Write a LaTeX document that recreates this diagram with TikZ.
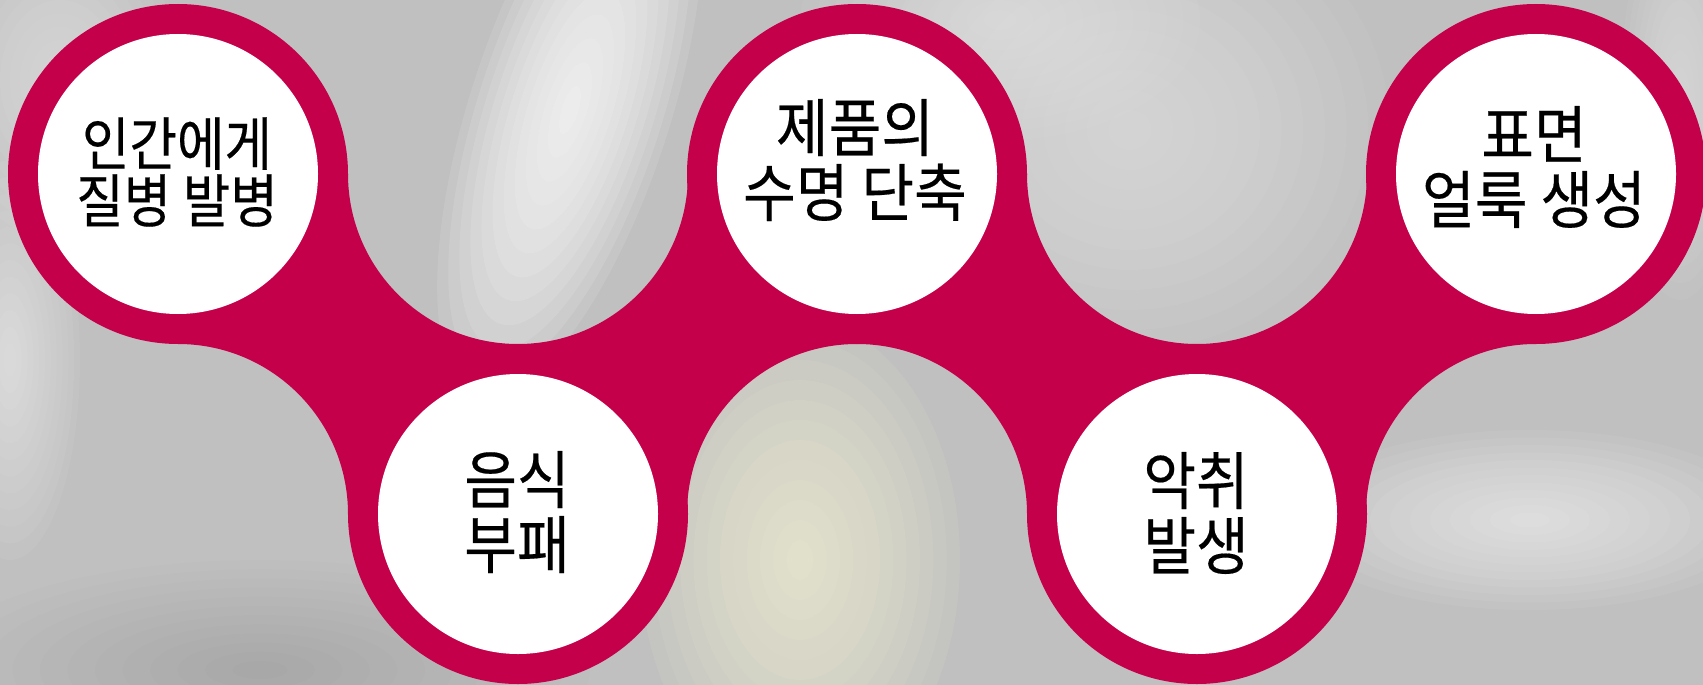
\documentclass[tikz,border=0pt]{standalone}
\usepackage{xcolor}
\usepackage{fontspec}
\usepackage{tikz}
\newfontfamily\krfont[FakeStretch=0.91, FakeBold=0.3]{Noto Sans CJK KR}
\newfontfamily\krfontsmall[FakeStretch=0.89, FakeBold=0.3]{Noto Sans CJK KR}
\definecolor{ringred}{RGB}{197,0,75}
\definecolor{bggray}{RGB}{192,192,192}
\newcommand{\ringcolor}{ringred}
% soft patch of the blurred backdrop: x, y, x radius, y radius, angle, colour/opacity
\newcommand{\glowblob}[6]{%
	\foreach \k in {1,...,12}
		\fill[#6, rotate around={#5:(#1,#2)}] (#1,#2)
			ellipse[x radius={#3pt*\k/12}, y radius={#4pt*\k/12}];}

\begin{document}
\begin{tikzpicture}[x=1pt, y=-1pt,
	label text/.style={align=center, font=\krfont\fontsize{63}{65}\selectfont}]
	\useasboundingbox (0,0) rectangle (1703,685);
	% blurred backdrop
	\fill[bggray] (0,0) rectangle (1703,685);
	\glowblob{570}{110}{100}{300}{-18}{white, fill opacity=0.11}
	\glowblob{1130}{130}{260}{240}{0}{white, fill opacity=0.04}
	\glowblob{1000}{20}{200}{120}{0}{white, fill opacity=0.04}
	\glowblob{10}{360}{70}{200}{0}{white, fill opacity=0.05}
	\glowblob{60}{80}{120}{160}{0}{white, fill opacity=0.04}
	\glowblob{800}{560}{160}{240}{0}{white!85!yellow, fill opacity=0.07}
	\glowblob{1530}{520}{240}{90}{0}{white, fill opacity=0.06}
	\glowblob{1680}{100}{60}{200}{0}{white, fill opacity=0.04}
	\glowblob{260}{670}{330}{110}{0}{black, fill opacity=0.008}

	% band between the rings
	\begin{scope}
		\clip (178,174) rectangle (1536,514);
		\fill[\ringcolor, even odd rule] (150,150) rectangle (1560,540)
			(178,514) circle[radius=170pt]
			(518,174) circle[radius=170pt]
			(857,514) circle[radius=170pt]
			(1197,174) circle[radius=170pt]
			(1536,514) circle[radius=170pt];
	\end{scope}

	% rings
	\foreach \cx/\cy in {178/174, 518/514, 857/174, 1197/514, 1536/174} {
		\fill[\ringcolor] (\cx,\cy) circle[radius=170pt];
		\fill[white] (\cx,\cy) circle[radius=140pt];
	}

	\node[label text, font=\krfontsmall\fontsize{58}{57}\selectfont]
		(disease) at (177,172) {인간에게\\질병 발병};
	\node[label text] (spoil) at (517,512) {음식\\부패};
	\node[label text] (life) at (855,160) {제품의\\수명 단축};
	\node[label text] (odor) at (1196,513) {악취\\발생};
	\node[label text] (stain) at (1534,167) {표면\\얼룩 생성};

\end{tikzpicture}
\end{document}
